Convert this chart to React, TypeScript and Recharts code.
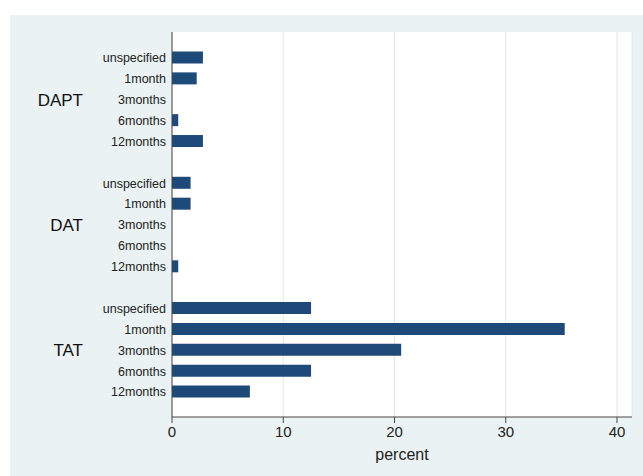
import { BarChart, Bar, XAxis, YAxis, CartesianGrid } from 'recharts';

const groups = ['DAPT', 'DAT', 'TAT'];
const durations = ['unspecified', '1month', '3months', '6months', '12months'];
const daptValues = [2.78, 2.22, 0, 0.56, 2.78];
const datValues = [1.67, 1.67, 0, 0, 0.56];
const tatValues = [12.5, 35.3, 20.6, 12.5, 7.0];
const percentTicks = [0, 10, 20, 30, 40];

const groupValues = [daptValues, datValues, tatValues];

// one row per bar, with an empty row between groups
const rows: { key: string; label: string; group: string; percent: number | null }[] = [];
groups.forEach((g, gi) => {
  durations.forEach((d, di) => {
    rows.push({ key: `${g}|${d}`, label: d, group: di === 2 ? g : '', percent: groupValues[gi][di] });
  });
  if (gi < groups.length - 1) rows.push({ key: `gap${gi}`, label: '', group: '', percent: null });
});

const FONT = '"Liberation Sans", Arial, sans-serif';

function CategoryTick(props: any) {
  const { x, y, payload } = props;
  const row = rows.find(r => r.key === payload.value);
  if (!row) return null;
  return (
    <g>
      <text x={x} y={y} dy="0.35em" textAnchor="end" fontSize={12.5} fill="#222" fontFamily={FONT}>
        {row.label}
      </text>
      {row.group && (
        <text x={x - 83} y={y} dy="0.35em" textAnchor="end" fontSize={17} fill="#111" fontFamily={FONT}>
          {row.group}
        </text>
      )}
    </g>
  );
}

export default function App() {
  return (
    <div style={{ position: 'absolute', left: 0, top: 0, width: 643, height: 476, background: '#fff' }}>
      <div style={{ position: 'absolute', left: 10, top: 15, width: 633, height: 461, background: '#eaf2f3' }} />
      <div style={{ position: 'absolute', left: 0, top: 0 }}>
        <BarChart
          width={643}
          height={476}
          data={rows}
          layout="vertical"
          margin={{ top: 32, right: 11, bottom: 13, left: 8 }}
          barCategoryGap={0}
        >
          <CartesianGrid horizontal={false} fill="#fff" stroke="#e6e6e6" />
          <XAxis
            type="number"
            domain={[0, 40]}
            ticks={percentTicks}
            padding={{ left: 0, right: 15 }}
            height={46}
            tickSize={6}
            tickMargin={3}
            tick={{ fontSize: 15, fill: '#222', fontFamily: FONT }}
            axisLine={{ stroke: '#444' }}
            tickLine={{ stroke: '#444' }}
            label={{ value: 'percent', position: 'insideBottom', offset: 3, fontSize: 16, fill: '#222', fontFamily: FONT }}
          />
          <YAxis
            type="category"
            dataKey="key"
            width={164}
            interval={0}
            padding={{ top: 15.5, bottom: 14.5 }}
            tickLine={false}
            tickSize={4}
            tickMargin={2}
            axisLine={{ stroke: '#444' }}
            tick={<CategoryTick />}
          />
          <Bar dataKey="percent" fill="#1d4a78" barSize={12} isAnimationActive={false} />
        </BarChart>
      </div>
    </div>
  );
}
